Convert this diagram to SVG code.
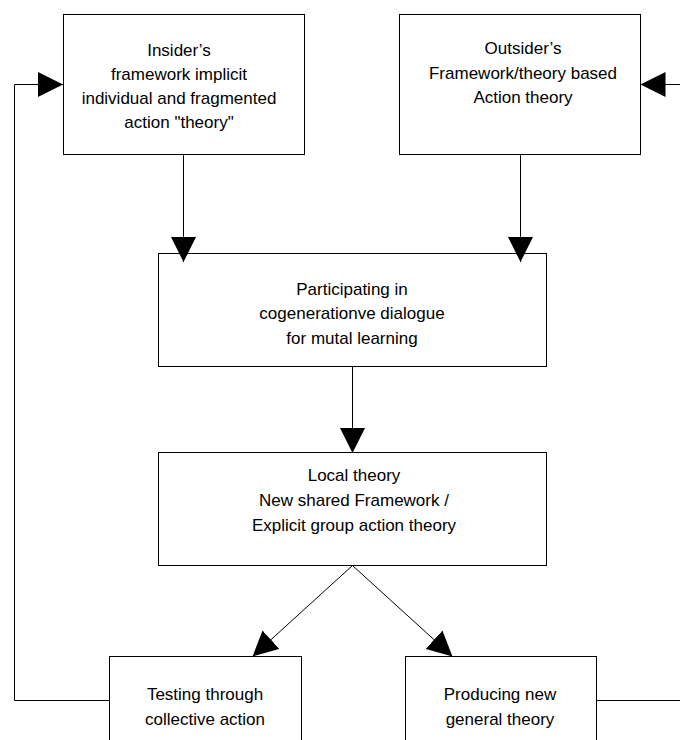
<svg xmlns="http://www.w3.org/2000/svg" width="680" height="740" viewBox="0 0 680 740">
<style>
.box{fill:#fff;stroke:#000;stroke-width:1}
.lbl{font-family:"Liberation Sans",Arial,sans-serif;font-size:17px;fill:#000;text-anchor:middle}
.con{fill:none;stroke:#000;stroke-width:1}
</style>
<defs>
<marker id="ah" markerUnits="userSpaceOnUse" markerWidth="25" markerHeight="25" refX="24" refY="12" orient="auto" viewBox="0 0 24 24">
<path d="M0,0 L24,12 L0,24 z" fill="#000"/>
</marker>
</defs>
<rect width="680" height="740" fill="#fff"/>
<g id="insider">
<rect class="box" x="63.5" y="14.5" width="241" height="140"/>
<text class="lbl" x="179" y="56">Insider’s</text>
<text class="lbl" x="179" y="80">framework implicit</text>
<text class="lbl" x="179" y="104">individual and fragmented</text>
<text class="lbl" x="179" y="128">action "theory"</text>
</g>
<g id="outsider">
<rect class="box" x="399.5" y="14.5" width="241" height="140"/>
<text class="lbl" x="523" y="54">Outsider’s</text>
<text class="lbl" x="523" y="79">Framework/theory based</text>
<text class="lbl" x="523" y="103">Action theory</text>
</g>
<g id="participating">
<rect class="box" x="158.5" y="253.5" width="388" height="113"/>
<text class="lbl" x="352" y="295">Participating in</text>
<text class="lbl" x="352" y="319">cogenerationve dialogue</text>
<text class="lbl" x="352" y="344">for mutal learning</text>
</g>
<g id="local">
<rect class="box" x="158.5" y="452.5" width="388" height="113"/>
<text class="lbl" x="354" y="481">Local theory</text>
<text class="lbl" x="354" y="506">New shared Framework /</text>
<text class="lbl" x="354" y="531">Explicit group action theory</text>
</g>
<g id="testing">
<rect class="box" x="109.5" y="656.5" width="192" height="120"/>
<text class="lbl" x="205" y="700">Testing through</text>
<text class="lbl" x="205" y="725">collective action</text>
</g>
<g id="producing">
<rect class="box" x="405.5" y="656.5" width="191" height="120"/>
<text class="lbl" x="500" y="700">Producing new</text>
<text class="lbl" x="500" y="725">general theory</text>
</g>
<g id="connectors">
<line class="con" x1="183.5" y1="154.5" x2="183.5" y2="262" marker-end="url(#ah)"/>
<line class="con" x1="520.5" y1="154.5" x2="520.5" y2="262" marker-end="url(#ah)"/>
<line class="con" x1="352.5" y1="366.5" x2="352.5" y2="453" marker-end="url(#ah)"/>
<line class="con" x1="352.5" y1="565.5" x2="252.5" y2="656.5" marker-end="url(#ah)"/>
<line class="con" x1="352.5" y1="565.5" x2="452.5" y2="656.5" marker-end="url(#ah)"/>
<polyline class="con" points="109.5,700.5 14.5,700.5 14.5,84.5 63,84.5" marker-end="url(#ah)"/>
<polyline class="con" points="596.5,700.5 680,700.5"/>
<line class="con" x1="680" y1="84.5" x2="640.5" y2="84.5" marker-end="url(#ah)"/>
</g>
</svg>
